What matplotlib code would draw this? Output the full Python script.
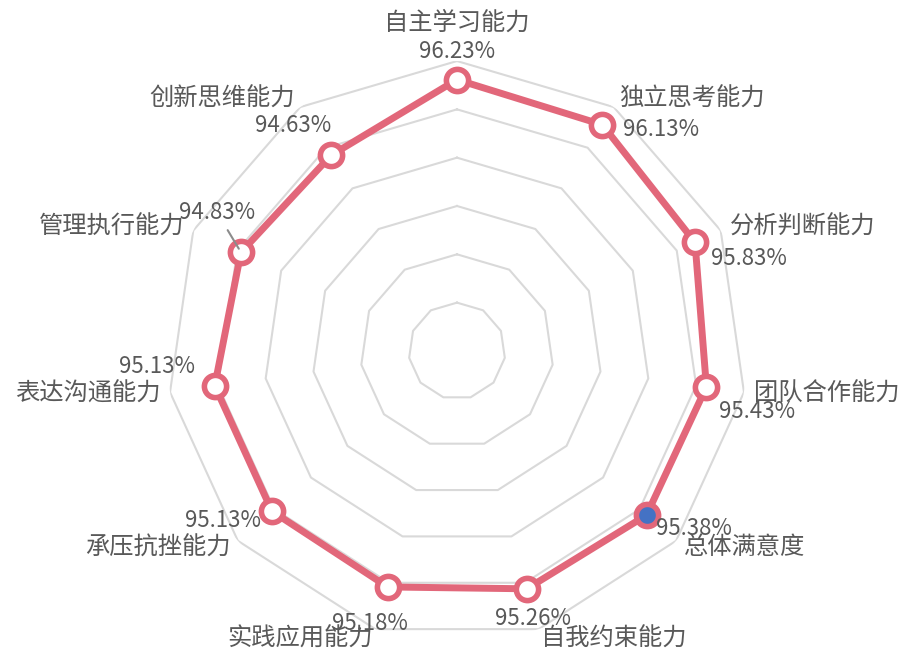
import numpy as np
import matplotlib
matplotlib.use("Agg")
import matplotlib.pyplot as plt

plt.rcParams['font.family'] = ['Noto Sans CJK SC', 'DejaVu Sans']

CATEGORIES = ['自主学习能力', '独立思考能力', '分析判断能力', '团队合作能力', '总体满意度',
              '自我约束能力', '实践应用能力', '承压抗挫能力', '表达沟通能力', '管理执行能力',
              '创新思维能力']
VALUES = [96.23, 96.13, 95.83, 95.43, 95.38, 95.26, 95.18, 95.13, 95.13, 94.83, 94.63]
HIGHLIGHT = '总体满意度'

R_MIN, R_MAX, R_STEP = 85, 97, 2

# label offsets in pixels (dx, dy) for the value labels
LABEL_OFFSETS = [(0, 28), (59, -5), (54, -16), (51, -25), (47, -13), (6, -30),
                 (-18, -37), (-49, -9), (-58, 19), (-24, 40), (-38, 30)]

LINE_COLOR = '#E2677A'
TEXT_COLOR = '#595959'
GRID_COLOR = '#D9D9D9'

n = len(CATEGORIES)
theta = np.arange(n) * 2 * np.pi / n

fig = plt.figure(figsize=(9.06, 6.56), dpi=100)
ax = fig.add_axes([0.1844, 0.023, 0.640, 0.884], projection='polar')
ax.set_theta_zero_location('N')
ax.set_theta_direction(-1)
ax.set_ylim(R_MIN, R_MAX)
ax.set_axis_off()

# polygon grid rings
closed = np.append(theta, theta[0])
for r in range(R_MIN + R_STEP, R_MAX + 1, R_STEP):
    ax.plot(closed, [r] * (n + 1), color=GRID_COLOR, lw=1.5, zorder=1)

vals = np.append(VALUES, VALUES[0])
ax.plot(closed, vals, color=LINE_COLOR, lw=5, zorder=3)
for t, v, c in zip(theta, VALUES, CATEGORIES):
    face = '#4472C4' if c == HIGHLIGHT else 'white'
    ax.plot(t, v, 'o', ms=16, mfc=face, mec=LINE_COLOR, mew=4, zorder=4)

# value labels
for i, (t, v) in enumerate(zip(theta, VALUES)):
    dx, dy = LABEL_OFFSETS[i]
    kw = {}
    if i == 9:
        # leader line from label to its point
        kw['arrowprops'] = dict(arrowstyle='-', color='#8C8C8C', lw=1.5,
                                shrinkA=3, shrinkB=3)
    ax.annotate('%.2f%%' % v, xy=(t, v), xytext=(dx, dy), textcoords='offset pixels',
                ha='center', va='center', fontsize=16, color=TEXT_COLOR, zorder=5, **kw)

# category labels
r_lab = R_MAX + 10 / 24.25
for i, (t, c) in enumerate(zip(theta, CATEGORIES)):
    s = np.sin(t)
    if s > 0.1:
        ha = 'left'
    elif s < -0.1:
        ha = 'right'
    else:
        ha = 'center'
    if i == 0:
        ax.text(t, R_MAX + 25 / 24.25, c, ha=ha, va='bottom', fontsize=17.5, color=TEXT_COLOR)
    else:
        ax.text(t, r_lab, c, ha=ha, va='center', fontsize=17.5, color=TEXT_COLOR)

fig.savefig('out.png', dpi=100)
